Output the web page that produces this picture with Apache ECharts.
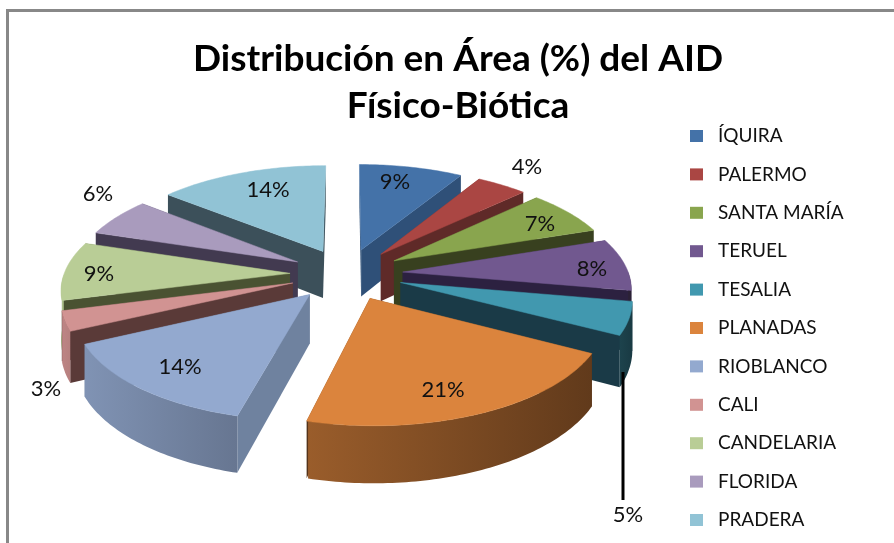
<!DOCTYPE html>
<html>
<head>
<meta charset="utf-8">
<style>html,body{margin:0;padding:0;background:#fff}#c{width:894px;height:543px}</style>
<script src="https://cdn.jsdelivr.net/npm/echarts@6/dist/echarts.min.js"></script>
</head>
<body>
<div id="c"></div>
<script>
// ---- data ----
const categories = ['ÍQUIRA','PALERMO','SANTA MARÍA','TERUEL','TESALIA','PLANADAS','RIOBLANCO','CALI','CANDELARIA','FLORIDA','PRADERA'];
const shares = [8.6, 4.2, 7.0, 8.0, 5.0, 21.2, 13.9, 3.0, 9.0, 6.0, 14.1];
const titleLines = ['Distribución en Área (%) del AID', 'Físico-Biótica'];

// ---- styles ----
const topColors = ['#4472a8','#aa4643','#89a54e','#71588f','#4198af','#db843d','#93a9cf','#d19392','#b9cd96','#a99bbd','#91c3d5'];
const radialWallColors = ['#2f5078','#5f2a28','#38401f','#2c2140','#1a3a47','#54331a','#6f829f','#5a3a38','#4a5232','#423a50','#3c505a'];

// ---- 3D pie layout ----
const view = { cx: 346.5, cy: 274, radiusX: 226, radiusY: 103, persp: 0.135, depth: 48, explode: 0.25 };
const labelLayout = [[395,182],[527,167],[540,224],[592,269],[628,515],[443,390],[180,367],[46,389],[99,274],[98,194],[268,190]];
const leader = { x: 623, y1: 372, y2: 500 };

const total = shares.reduce((a, b) => a + b, 0);
const ranges = [];
shares.reduce((acc, v) => { ranges.push([acc / total * 360, (acc + v) / total * 360]); return acc + v; }, 0);
const rad = d => d * Math.PI / 180;

function project(u, v, z) {
  const f = 1 / (1 - view.persp * v);
  return [view.cx + view.radiusX * u * f, view.cy + view.radiusY * v * f + view.depth * z * f];
}
function shade(hex, k) {
  const n = parseInt(hex.slice(1), 16);
  const c = [n >> 16, (n >> 8) & 255, n & 255].map(x => Math.round(x * k));
  return 'rgb(' + c.join(',') + ')';
}
function wallShade(theta) {
  return Math.max(0.36, Math.min(0.92, 0.38 + (theta - 100) * 0.0034));
}
function sliceGroup(i) {
  const [a0, a1] = ranges[i];
  const mid = (a0 + a1) / 2;
  const ex = view.explode * Math.sin(rad(mid)), ey = -view.explode * Math.cos(rad(mid));
  const rim = (t, z) => project(ex + Math.sin(rad(t)), ey - Math.cos(rad(t)), z);
  const apex = z => project(ex, ey, z);
  const children = [];
  const base = topColors[i];
  const radial = t => ({ type: 'polygon', shape: { points: [apex(0), rim(t, 0), rim(t, 1), apex(1)] },
    style: { fill: radialWallColors[i] } });
  // farther radial wall first
  const walls = [a0, a1].sort((p, q) => (-Math.cos(rad(p))) - (-Math.cos(rad(q))));
  walls.forEach(t => children.push(radial(t)));
  // curved outer wall, front-facing part
  const s = Math.max(a0, 90), e = Math.min(a1, 270);
  if (e > s) {
    const upper = [], lower = [];
    for (let t = s; t <= e + 0.001; t += 1) { upper.push(rim(t, 0)); lower.unshift(rim(t, 1)); }
    const pts = upper.concat(lower);
    const xL = rim(e, 0)[0], xR = rim(s, 0)[0];
    children.push({ type: 'polygon', shape: { points: pts }, style: {
      fill: new echarts.graphic.LinearGradient(xL, 0, Math.max(xR, xL + 1), 0, [
        { offset: 0, color: shade(base, wallShade(e)) },
        { offset: 1, color: shade(base, wallShade(s)) }
      ], true) } });
  }
  // top face
  const topPts = [apex(0)];
  for (let t = a0; t < a1; t += 1) topPts.push(rim(t, 0));
  topPts.push(rim(a1, 0));
  children.push({ type: 'polygon', shape: { points: topPts }, style: { fill: base, stroke: base, lineWidth: 0.5 } });
  // leader for the slice labelled outside the pie at the bottom
  if (categories[i] === 'TESALIA') {
    children.push({ type: 'line', shape: { x1: leader.x, y1: leader.y1, x2: leader.x, y2: leader.y2 },
      style: { stroke: '#000', lineWidth: 3 } });
  }
  // label
  children.push({ type: 'text', z2: 50, style: {
    x: labelLayout[i][0], y: labelLayout[i][1], text: Math.round(shares[i] / total * 100) + '%',
    fill: '#111', font: '22px Lato', align: 'center', verticalAlign: 'middle' } });
  return { type: 'group', children };
}

// paint order: farther slices first
const depthOrder = categories.map((_, i) => i)
  .sort((p, q) => -Math.cos(rad((ranges[p][0] + ranges[p][1]) / 2)) + Math.cos(rad((ranges[q][0] + ranges[q][1]) / 2)));

const chart = echarts.init(document.getElementById('c'), null, { renderer: 'canvas' });
chart.setOption({
  animation: false,
  backgroundColor: '#ffffff',
  color: topColors,
  title: {
    text: titleLines.join('\n'), left: 453, top: 31, textAlign: 'center',
    textStyle: { fontFamily: 'Lato', fontWeight: 'bold', fontSize: 37, lineHeight: 47, color: '#000' }
  },
  legend: {
    orient: 'vertical', left: 685, top: 119, icon: 'rect', itemWidth: 13, itemHeight: 12, itemGap: 14.4,
    selectedMode: false, data: categories,
    textStyle: { fontFamily: 'Lato', fontSize: 19, color: '#111', padding: [0, 0, 0, 10], lineHeight: 24 }
  },
  graphic: [
    { type: 'line', shape: { x1: 6, y1: 10.5, x2: 894, y2: 10.5 }, style: { stroke: '#888888', lineWidth: 3 } },
    { type: 'line', shape: { x1: 7.5, y1: 9, x2: 7.5, y2: 543 }, style: { stroke: '#888888', lineWidth: 3 } }
  ],
  series: categories.map((name, i) => ({
    type: 'custom', name, coordinateSystem: 'none', silent: true,
    z: 10 + depthOrder.indexOf(i),
    data: [[shares[i]]],
    renderItem: () => sliceGroup(i)
  }))
});
</script>
</body>
</html>
